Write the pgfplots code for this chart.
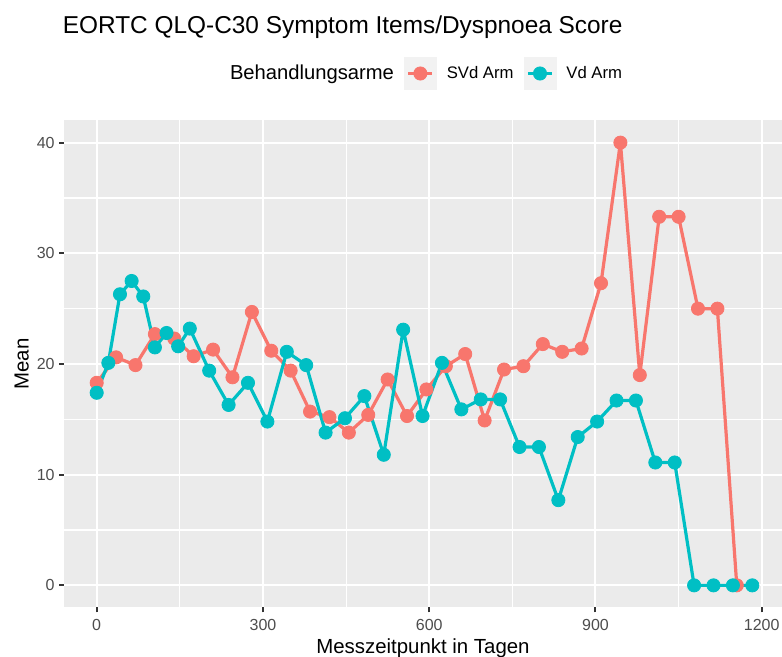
\documentclass[border=0pt]{standalone}
\usepackage{fontspec}
\setmainfont{Liberation Sans}
\usepackage{pgfplots}
\usepackage{pgfplotstable}
\pgfplotsset{compat=1.18}

\definecolor{svd}{HTML}{F8766D}
\definecolor{vd}{HTML}{00BFC4}
\definecolor{panel}{HTML}{EBEBEB}
\definecolor{keybg}{HTML}{F2F2F2}
\definecolor{ticklab}{HTML}{4D4D4D}
\definecolor{tickcol}{HTML}{333333}

% SVd Arm
\pgfplotstableread{
day mean
0 18.3
35 20.6
70 19.9
105 22.7
140 22.3
175 20.7
210 21.3
245 18.8
280 24.7
315 21.2
350 19.4
385 15.7
420 15.2
455 13.8
490 15.4
525 18.6
560 15.3
595 17.7
630 19.8
665 20.9
700 14.9
735 19.5
770 19.8
805 21.8
840 21.1
875 21.4
910 27.3
945 40.0
980 19.0
1015 33.3
1050 33.3
1085 25.0
1120 25.0
1155 0
}\svdtab

% Vd Arm
\pgfplotstableread{
day mean
0 17.4
21 20.1
42 26.3
63 27.5
84 26.1
105 21.5
126 22.8
147 21.6
168 23.2
203 19.4
238 16.3
273 18.3
308 14.8
343 21.1
378 19.9
413 13.8
448 15.1
483 17.1
518 11.8
553 23.1
588 15.3
623 20.1
658 15.9
693 16.8
728 16.8
763 12.5
798 12.5
833 7.7
868 13.4
903 14.8
938 16.7
973 16.7
1008 11.1
1043 11.1
1078 0
1113 0
1148 0
1183 0
}\vdtab

\pgfplotsset{
  keyimg/.style={legend image code/.code={
    \fill[keybg] (0pt,-8pt) rectangle (16pt,8pt);
    \draw[line width=1.6pt] (2pt,0pt) -- (14pt,0pt);
    \draw[only marks, mark repeat=2, mark phase=2] plot coordinates {(2pt,0pt) (8pt,0pt) (14pt,0pt)};
  }},
}

\begin{document}
\begin{tikzpicture}
\begin{axis}[
  name=ax,
  scale only axis,
  width=359pt, height=243.5pt,
  xmin=-59, xmax=1236.6, ymin=-2, ymax=42,
  axis background/.style={fill=panel},
  axis line style={draw=none},
  xtick={0,300,600,900,1200},
  ytick={0,10,20,30,40},
  minor xtick={150,450,750,1050},
  minor ytick={5,15,25,35},
  grid=both,
  major grid style={white, line width=1pt},
  minor grid style={white, line width=0.55pt},
  tick pos=left,
  tick align=outside,
  major tick length=2.5pt,
  minor tick length=0pt,
  tick style={tickcol, line width=1pt},
  /pgf/number format/assume math mode=true,
  /pgf/number format/1000 sep={},
  xticklabel style={font=\fontsize{8}{9.6}\selectfont, text=ticklab, anchor=base, inner sep=0pt, yshift=-9.1pt},
  yticklabel style={font=\fontsize{8}{9.6}\selectfont, text=ticklab, anchor=east, inner sep=0pt, xshift=-2pt},
  xlabel={Messzeitpunkt in Tagen},
  ylabel={Mean},
  xlabel style={at={(axis description cs:0.5,0)}, anchor=base, inner sep=0pt, yshift=-23pt, font=\fontsize{10.2}{12}\selectfont},
  ylabel style={at={(axis description cs:-0.0493,0.5)}, anchor=base, inner sep=0pt, font=\fontsize{10.2}{12}\selectfont},
  title={EORTC QLQ-C30 Symptom Items/Dyspnoea Score},
  title style={at={(axis description cs:0,1)}, anchor=base west, inner sep=0pt, xshift=-0.75pt, yshift=37.25pt, font=\fontsize{12.2}{14}\selectfont},
  legend columns=3,
  legend cell align=left,
  legend style={at={(axis description cs:0.2173,1.0965)}, anchor=west, draw=none, fill=none,
    inner sep=0pt, outer sep=0pt, column sep=5pt,
    font=\fontsize{8.35}{10}\selectfont, nodes={inner sep=0pt}},
]
\addlegendimage{empty legend}
\addplot[svd, line width=1.6pt, line join=round, forget plot] table[x=day, y=mean] {\svdtab};
\addplot[vd, line width=1.6pt, line join=round, forget plot] table[x=day, y=mean] {\vdtab};
\addplot[svd, only marks, mark=*, mark size=3.3pt, keyimg] table[x=day, y=mean] {\svdtab};
\addplot[vd, only marks, mark=*, mark size=3.3pt, keyimg] table[x=day, y=mean] {\vdtab};
\legend{{\fontsize{10.1}{12}\selectfont Behandlungsarme}, SVd Arm, Vd Arm}
\end{axis}
\pgfresetboundingbox
\useasboundingbox ([xshift=-32pt, yshift=-24.75pt]ax.south west) rectangle ([yshift=60.25pt]ax.north east);
\end{tikzpicture}
\end{document}
